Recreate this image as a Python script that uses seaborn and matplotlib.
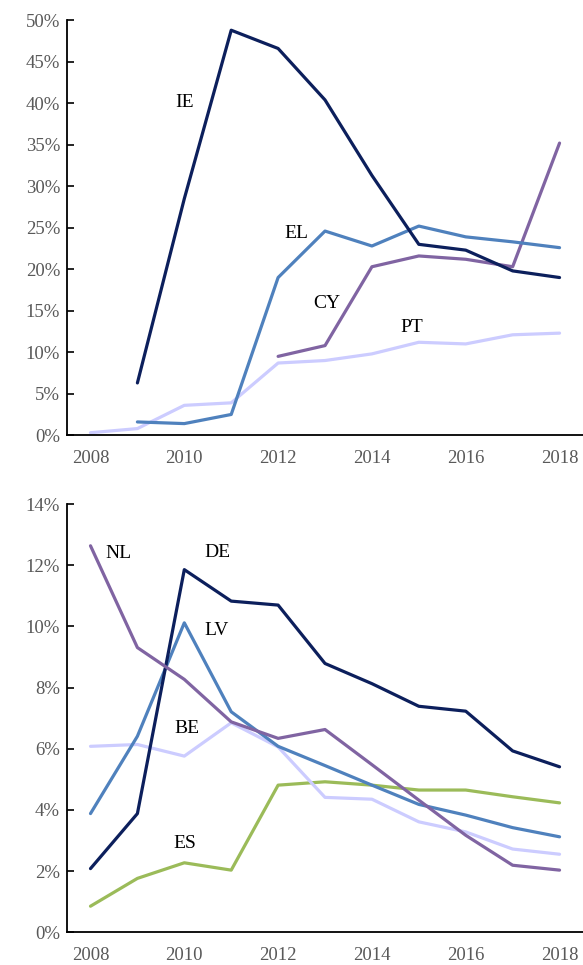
import numpy as np
import pandas as pd
import matplotlib
matplotlib.use("Agg")
import matplotlib.pyplot as plt
import seaborn as sns
from matplotlib.ticker import FuncFormatter

years = list(range(2008, 2019))

# top panel (% values), None where no data
ie = [None, 6.3, 28.5, 48.8, 46.6, 40.4, 31.3, 23.0, 22.3, 19.8, 19.0]
el = [None, 1.6, 1.4, 2.5, 19.0, 24.6, 22.8, 25.2, 23.9, 23.3, 22.6]
cy = [None, None, None, None, 9.5, 10.8, 20.3, 21.6, 21.2, 20.3, 35.2]
pt = [0.3, 0.8, 3.6, 3.9, 8.7, 9.0, 9.8, 11.2, 11.0, 12.1, 12.3]

# bottom panel
nl = [12.64, 9.31, 8.27, 6.88, 6.34, 6.63, 5.48, 4.32, 3.17, 2.19, 2.03]
de = [2.08, 3.88, 11.86, 10.83, 10.70, 8.79, 8.13, 7.39, 7.23, 5.93, 5.41]
lv = [3.88, 6.41, 10.12, 7.21, 6.08, 5.45, 4.81, 4.18, 3.83, 3.42, 3.12]
be = [6.08, 6.14, 5.76, 6.85, 6.06, 4.41, 4.35, 3.61, 3.28, 2.72, 2.55]
es = [0.85, 1.76, 2.27, 2.03, 4.81, 4.92, 4.81, 4.65, 4.65, 4.43, 4.23]

top_series = {"IE": ie, "EL": el, "CY": cy, "PT": pt}
bot_series = {"NL": nl, "DE": de, "LV": lv, "BE": be, "ES": es}

colors = {"IE": "#0c1f5c", "DE": "#0c1f5c",
          "EL": "#4f81bd", "LV": "#4f81bd",
          "CY": "#8064a2", "NL": "#8064a2",
          "PT": "#ccccff", "BE": "#ccccff",
          "ES": "#9bbb59"}

# label positions (category index, value)
top_labels = {"IE": (2.0, 40.1), "EL": (4.38, 24.3), "CY": (5.04, 15.9), "PT": (6.85, 13.0)}
bot_labels = {"NL": (0.59, 12.4), "DE": (2.7, 12.43), "LV": (2.68, 9.88),
              "BE": (2.06, 6.67), "ES": (2.01, 2.9)}

sns.set_theme(style="white")
plt.rcParams["font.family"] = ["Liberation Serif", "DejaVu Serif"]


def to_long(series):
    rows = []
    for name, vals in series.items():
        for i, v in enumerate(vals):
            if v is not None:
                rows.append({"idx": i, "value": v, "country": name})
    return pd.DataFrame(rows)


def draw(ax, series, labels, ymax, ystep):
    df = to_long(series)
    # draw light ones first so dark lines sit on top
    order = list(series.keys())[::-1]
    for name in order:
        sub = df[df["country"] == name]
        sns.lineplot(data=sub, x="idx", y="value", color=colors[name],
                     linewidth=2.3, ax=ax, legend=False)
    for name, (x, y) in labels.items():
        ax.text(x, y, name, ha="center", va="center", fontsize=14, color="black")
    ax.set_xlim(-0.5, 10.5)
    ax.set_ylim(0, ymax)
    ax.set_yticks(np.arange(0, ymax + 0.001, ystep))
    ax.yaxis.set_major_formatter(FuncFormatter(lambda v, p: f"{v:.0f}%"))
    ax.set_xticks(range(0, 11, 2))
    ax.set_xticklabels([str(y) for y in years[::2]])
    ax.set_xticks(np.arange(0.5, 10.5, 1), minor=True)
    ax.tick_params(axis="x", which="major", length=0, pad=11, labelsize=13.5, labelcolor="#595959")
    ax.tick_params(axis="x", which="minor", length=5, width=1.2, direction="in", color="black")
    ax.tick_params(axis="y", which="major", length=5, width=1.2, direction="in", color="black",
                   labelsize=13.5, labelcolor="#595959", pad=5, left=True)
    ax.set_xlabel("")
    ax.set_ylabel("")
    for s in ["top", "right"]:
        ax.spines[s].set_visible(False)
    for s in ["left", "bottom"]:
        ax.spines[s].set_color("black")
        ax.spines[s].set_linewidth(1.3)


fig = plt.figure(figsize=(5.83, 9.65), dpi=100)
ax1 = fig.add_axes([0.115, 0.549, 0.885, 0.430])
ax2 = fig.add_axes([0.115, 0.034, 0.885, 0.4435])
draw(ax1, top_series, top_labels, 50, 5)
draw(ax2, bot_series, bot_labels, 14, 2)

fig.savefig("out.png", dpi=100)
